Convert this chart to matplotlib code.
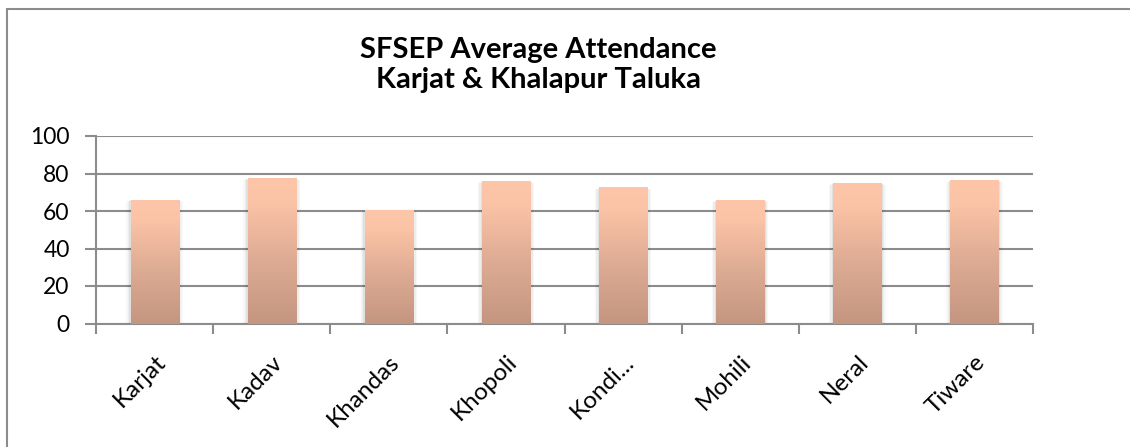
import matplotlib.pyplot as plt
import numpy as np
from matplotlib.colors import LinearSegmentedColormap
from matplotlib.patches import Rectangle

# data
talukas = ["Karjat", "Kadav", "Khandas", "Khopoli", "Kondi...", "Mohili", "Neral", "Tiware"]
attendance = [66, 77.5, 60.5, 76, 72.6, 65.7, 74.8, 76.5]
y_ticks = [0, 20, 40, 60, 80, 100]

plt.rcParams['font.family'] = ['Lato', 'DejaVu Sans']

fig = plt.figure(figsize=(11.3, 4.47), dpi=100)
fig.patches.append(Rectangle((7 / 1130, -0.1), 1.2, 1 - 9 / 447 + 0.1, transform=fig.transFigure,
                             fill=False, edgecolor="#8c8c8c", linewidth=1.5))

ax = fig.add_axes([96 / 1130, 1 - 323.5 / 447, (1033 - 96) / 1130, (323.5 - 136) / 447])

x = np.arange(len(talukas))
bars = ax.bar(x, attendance, width=0.41, color="none", zorder=3)

# gradient fill + soft shadow for each bar
cmap = LinearSegmentedColormap.from_list("bar", [(0, "#c49580"), (0.45, "#deac94"),
                                                 (0.85, "#fcc4a7"), (1, "#fdc6a8")])
grad = np.linspace(0, 1, 256).reshape(-1, 1)
for b in bars:
    bx, bw, bh = b.get_x(), b.get_width(), b.get_height()
    for k, a in enumerate([0.05, 0.04, 0.03]):
        ax.add_patch(Rectangle((bx - 0.012 * (k + 1), 0), bw + 0.024 * (k + 1), bh - 0.3 * (k + 1),
                               facecolor="#000000", alpha=a, edgecolor="none", zorder=2))
    im = ax.imshow(grad, cmap=cmap, aspect="auto", origin="lower",
                   extent=(bx, bx + bw, 0, bh), zorder=3)
    im.set_clip_path(b)

ax.set_xlim(-0.5, len(talukas) - 0.5)
ax.set_ylim(0, 100)
ax.set_yticks(y_ticks)
ax.set_xticks(np.arange(len(talukas) + 1) - 0.5, minor=False)
ax.set_xticklabels([])
ax.set_xticks(x, minor=True)
ax.set_xticklabels(talukas, minor=True, rotation=45, ha="right", va="top",
                   rotation_mode="anchor", fontsize=17.5)
ax.tick_params(axis="x", which="minor", length=0, pad=20)
ax.tick_params(axis="x", which="major", length=7, width=1.5, color="#8c8c8c")
ax.tick_params(axis="y", length=8, width=1.5, color="#8c8c8c", labelsize=16.5, pad=11)

ax.grid(axis="y", color="#8c8c8c", linewidth=1.5, zorder=1)
ax.set_axisbelow(True)
for s in ["top", "right"]:
    ax.spines[s].set_visible(False)
for s in ["left", "bottom"]:
    ax.spines[s].set_color("#8c8c8c")
    ax.spines[s].set_linewidth(1.5)

fig.text(538 / 1130, 1 - 65 / 447, "SFSEP Average Attendance\nKarjat & Khalapur Taluka",
         ha="center", va="center", fontsize=21, fontweight="bold", linespacing=1.2)

fig.savefig("out.png", dpi=100)
